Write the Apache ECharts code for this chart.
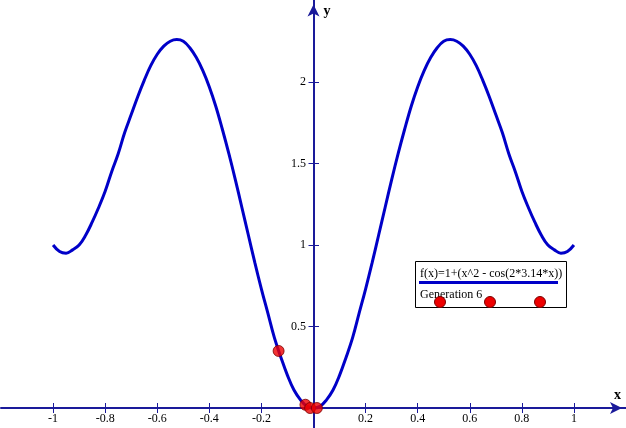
<!DOCTYPE html>
<html><head><meta charset="utf-8">
<script src="https://cdn.jsdelivr.net/npm/echarts@6/dist/echarts.min.js"></script>
<style>html,body{margin:0;padding:0;background:#fff}#c{width:626px;height:428px}</style>
</head><body><div id="c"></div>
<script>
// Curve samples
var curveX = [-1,-0.975,-0.95,-0.925,-0.9,-0.875,-0.85,-0.825,-0.8,-0.775,-0.75,-0.725,-0.7,-0.675,-0.65,-0.625,-0.6,-0.575,-0.55,-0.525,-0.5,-0.475,-0.45,-0.425,-0.4,-0.375,-0.35,-0.325,-0.3,-0.275,-0.25,-0.225,-0.2,-0.175,-0.15,-0.125,-0.1,-0.075,-0.05,-0.025,0,0.025,0.05,0.075,0.1,0.125,0.15,0.175,0.2,0.225,0.25,0.275,0.3,0.325,0.35,0.375,0.4,0.425,0.45,0.475,0.5,0.525,0.55,0.575,0.6,0.625,0.65,0.675,0.7,0.725,0.75,0.775,0.8,0.825,0.85,0.875,0.9,0.925,0.95,0.975,1];
var curveY = [1.00,0.96,0.95,0.97,1.00,1.06,1.14,1.23,1.33,1.45,1.56,1.69,1.80,1.91,2.01,2.10,2.17,2.22,2.25,2.26,2.25,2.21,2.15,2.07,1.97,1.85,1.71,1.56,1.40,1.23,1.06,0.89,0.73,0.58,0.43,0.31,0.20,0.11,0.05,0.01,0.00,0.01,0.05,0.11,0.20,0.31,0.43,0.58,0.73,0.89,1.06,1.23,1.40,1.56,1.71,1.85,1.97,2.07,2.15,2.21,2.25,2.26,2.25,2.22,2.17,2.10,2.01,1.91,1.80,1.69,1.56,1.45,1.33,1.23,1.14,1.06,1.00,0.97,0.95,0.96,1.00];
// Generation 6 population
var popX = [-0.134,-0.031,-0.013,0.013];
var popY = [0.35,0.02,0.00,0.00];
var xTicks = [-1,-0.8,-0.6,-0.4,-0.2,0.2,0.4,0.6,0.8,1];
var yTicks = [0.5,1,1.5,2];
var legendTitle = 'f(x)=1+(x^2 - cos(2*3.14*x))';
var legendGen = 'Generation 6';

var curve = curveX.map(function(x,i){return [x,curveY[i]];});
var pop = popX.map(function(x,i){return [x,popY[i]];});
var axisCol = '#1a1a9a';
var font = 'Liberation Serif';
function xfmt(v){var r=Math.round(v*10)/10; return xTicks.indexOf(r)>=0 ? String(r) : '';}
function yfmt(v){var r=Math.round(v*10)/10; return yTicks.indexOf(r)>=0 ? String(r) : '';}
var tickStyle = {color:axisCol,width:1};

var chart = echarts.init(document.getElementById('c'));
chart.setOption({
  backgroundColor:'#fff',
  animation:false,
  grid:[
    {left:1,right:0,top:0.5,bottom:-61.5,containLabel:false,outerBoundsMode:'none'},
    {left:1,right:0,top:0.5,bottom:20,containLabel:false,outerBoundsMode:'none'},
    {left:314,right:0,top:0.5,bottom:20,containLabel:false,outerBoundsMode:'none'}
  ],
  xAxis:[{
    gridIndex:0,type:'value',min:-1.2,max:1.2,interval:0.2,
    axisLine:{onZero:true,lineStyle:{color:axisCol,width:2},symbol:['none','arrow'],symbolSize:[9,12],symbolOffset:[0,-4]},
    axisTick:{show:true,inside:false,length:5,lineStyle:tickStyle,customValues:xTicks},
    axisLabel:{show:false},
    splitLine:{show:false},
    name:'x',nameLocation:'end',nameGap:-12,
    nameTextStyle:{color:'#000',fontFamily:font,fontWeight:'bold',fontSize:14,verticalAlign:'bottom',padding:[0,0,6,0]}
  },{
    gridIndex:1,type:'value',min:-1.2,max:1.2,interval:0.2,position:'bottom',
    axisLine:{show:false,onZero:false},
    axisTick:{show:true,inside:true,length:5,lineStyle:tickStyle,customValues:xTicks},
    axisLabel:{formatter:xfmt,color:'#000',fontFamily:font,fontSize:12,margin:5,customValues:xTicks},
    splitLine:{show:false}
  },{
    gridIndex:2,type:'value',min:0,max:1.2,show:false
  }],
  yAxis:[{
    gridIndex:0,type:'value',min:-0.5,max:2.5,interval:0.5,
    axisLine:{onZero:true,lineStyle:{color:axisCol,width:2},symbol:['none','arrow'],symbolSize:[9,12],symbolOffset:[0,-4]},
    axisTick:{show:true,inside:false,length:5,lineStyle:tickStyle,customValues:yTicks},
    axisLabel:{show:false},
    splitLine:{show:false},
    name:'y',nameLocation:'end',nameGap:-18,
    nameTextStyle:{color:'#000',fontFamily:font,fontWeight:'bold',fontSize:14,align:'left',padding:[0,0,0,10]}
  },{
    gridIndex:1,type:'value',min:0,max:2.5,show:false
  },{
    gridIndex:2,type:'value',min:0,max:2.5,interval:0.5,position:'left',
    axisLine:{show:false,onZero:false},
    axisTick:{show:true,inside:true,length:5,lineStyle:tickStyle,customValues:yTicks},
    axisLabel:{formatter:yfmt,color:'#000',fontFamily:font,fontSize:12,margin:8,customValues:yTicks},
    splitLine:{show:false}
  }],
  series:[{
    type:'line',xAxisIndex:0,yAxisIndex:0,data:curve,smooth:0.4,showSymbol:false,
    lineStyle:{color:'#0000c8',width:3},z:3
  },{
    type:'scatter',xAxisIndex:0,yAxisIndex:0,data:pop,symbolSize:11,
    itemStyle:{color:'#ee0000',borderColor:'#7a0000',borderWidth:1},z:5
  }],
  graphic:[
    {type:'rect',shape:{x:415.5,y:261.5,width:151,height:46},style:{fill:'#fff',stroke:'#000',lineWidth:1},z:10},
    {type:'text',x:420,y:273.5,style:{text:legendTitle,fill:'#000',font:'12px "Liberation Serif"',verticalAlign:'middle'},z:11},
    {type:'line',shape:{x1:419,y1:282.5,x2:558,y2:282.5},style:{stroke:'#0000c8',lineWidth:3},z:11},
    {type:'text',x:420,y:294.5,style:{text:legendGen,fill:'#000',font:'12px "Liberation Serif"',verticalAlign:'middle'},z:11},
    {type:'circle',shape:{cx:440,cy:302,r:5.5},style:{fill:'#ee0000',stroke:'#7a0000',lineWidth:1},z:11},
    {type:'circle',shape:{cx:490,cy:302,r:5.5},style:{fill:'#ee0000',stroke:'#7a0000',lineWidth:1},z:11},
    {type:'circle',shape:{cx:540,cy:302,r:5.5},style:{fill:'#ee0000',stroke:'#7a0000',lineWidth:1},z:11}
  ]
});
</script></body></html>
